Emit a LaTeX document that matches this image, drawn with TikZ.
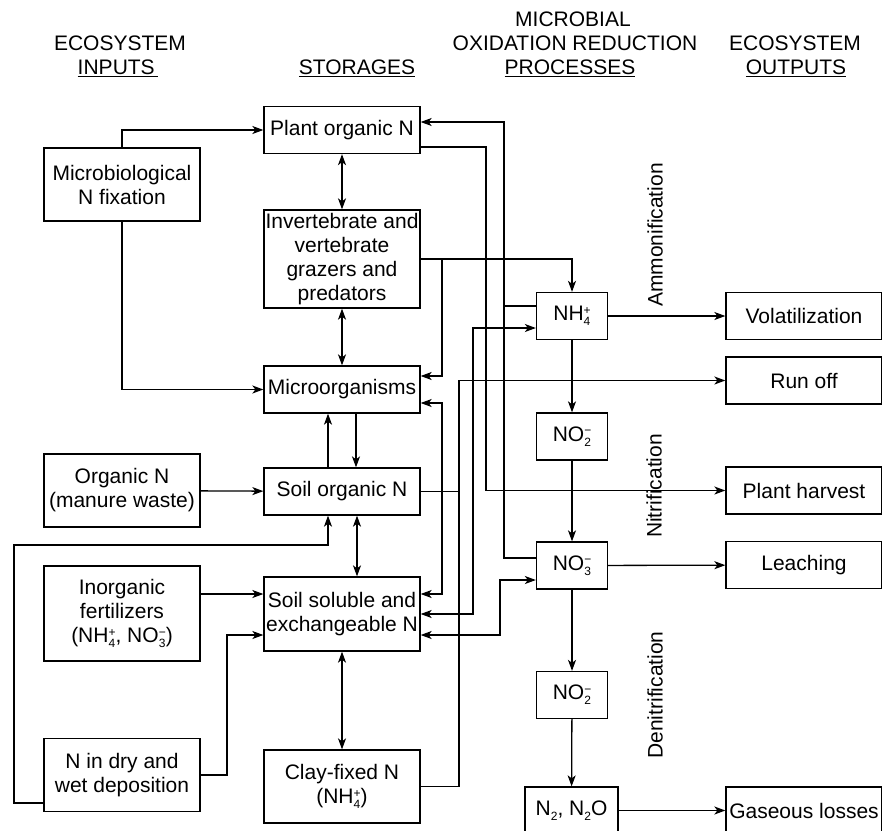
\documentclass[tikz,border=0pt]{standalone}
\usepackage{fontspec}
\setmainfont{Liberation Sans}
\usetikzlibrary{arrows.meta}

% ion with stacked charge and count
\newcommand{\ionsym}[3]{#1\raisebox{-0.45ex}{\fontsize{12}{12}\selectfont\shortstack[l]{#3\\#2}}}
\newcommand{\subs}[1]{\raisebox{-0.45ex}{\fontsize{12}{12}\selectfont #1}}

\tikzset{
  box/.style={draw, inner sep=1pt, align=center, minimum width=156pt, minimum height=47pt},
  ionbox/.style={box, minimum width=71pt},
  head/.style={anchor=base, inner sep=0pt},
  proc/.style={rotate=90, inner sep=0pt},
}

\begin{document}
\begin{tikzpicture}[x=1pt, y=-1pt, line width=1.3pt,
    >={Stealth[length=11pt,width=8pt,inset=3pt]},
    font=\fontsize{21}{24}\selectfont]

    \useasboundingbox (0,0) rectangle (882,830);

    % column heads
    \node[head] (hin1) at (120,50.5) {ECOSYSTEM};
    \node[head] (hin2) at (118,74.5) {\underline{INPUTS\,}};
    \node[head] (hst) at (357,74.5) {\underline{STORAGES}};
    \node[head] (hpr1) at (573,26.5) {MICROBIAL};
    \node[head] (hpr2) at (575,50.5) {OXIDATION REDUCTION};
    \node[head] (hpr3) at (570,74.5) {\underline{PROCESSES}};
    \node[head] (hout1) at (795,50.5) {ECOSYSTEM};
    \node[head] (hout2) at (796,74.5) {\underline{OUTPUTS}};

    % inputs
    \node[box, minimum height=73pt] (fix) at (122,184.5) {Microbiological\\N fixation};
    \node[box, minimum height=73pt] (orgn) at (122,490.5) {Organic N\\(manure waste)};
    \node[box, minimum height=95pt] (inorg) at (122,613.5) {Inorganic\\fertilizers\\(\ionsym{NH}{4}{+}, \ionsym{NO}{3}{−})};
    \node[box, minimum height=73pt] (dep) at (122,775) {N in dry and\\wet deposition};

    % storages
    \node[box] (plant) at (342,130) {Plant organic N};
    \node[box, minimum height=98pt] (inv) at (342,259) {Invertebrate and\\vertebrate\\grazers and\\predators};
    \node[box] (micro) at (342,389.5) {Microorganisms};
    \node[box] (soilorg) at (342,491.5) {Soil organic N};
    \node[box, minimum height=74pt] (soluble) at (342,614) {Soil soluble and\\exchangeable N};
    \node[box, minimum height=73pt] (clay) at (342,786.5) {Clay-fixed N\\(\ionsym{NH}{4}{+})};

    % processes
    \node[ionbox] (nh4) at (572,316) {\ionsym{NH}{4}{+}};
    \node[ionbox] (nitrite) at (572,436.5) {\ionsym{NO}{2}{−}};
    \node[ionbox] (nitrate) at (572,565.5) {\ionsym{NO}{3}{−}};
    \node[ionbox] (nitrite2) at (572,695) {\ionsym{NO}{2}{−}};
    \node[ionbox, minimum width=93pt] (gases) at (571.5,810.5) {N\subs{2}, N\subs{2}O};

    \node[proc] (ammon) at (655,235) {Ammonification};
    \node[proc] (nitrif) at (654,486) {Nitrification};
    \node[proc] (denit) at (655,695) {Denitrification};

    % outputs
    \node[box] (volat) at (804,316) {Volatilization};
    \node[box] (runoff) at (804,380.5) {Run off};
    \node[box] (harvest) at (804,490.5) {Plant harvest};
    \node[box] (leach) at (804,565) {Leaching};
    \node[box] (gasloss) at (804,810.5) {Gaseous losses};

    % inputs to storages
    \draw[->] (fix.north) |- (plant.west);
    \draw[->] (fix.south) |- (micro.west);
    \draw[->] (orgn) -- (soilorg);
    \draw[->] (inorg.east |- 0,594) -- (soluble.west |- 0,594);
    \draw[->] ([yshift=-28pt]dep.west) -| (14,545) -| ([xshift=-14pt]soilorg.south);
    \draw[->] (dep.east) -| (227,635) -- ([yshift=-21pt]soluble.west);

    % between storages
    \draw[<->] (plant) -- (inv);
    \draw[<->] (inv) -- (micro);
    \draw[->] ([xshift=14pt]micro.south) -- ([xshift=14pt]soilorg.north);
    \draw[->] ([xshift=-14pt]soilorg.north) -- ([xshift=-14pt]micro.south);
    \draw[<->] ([xshift=15pt]soilorg.south) -- ([xshift=15pt]soluble.north);
    \draw[<->] (soluble) -- (clay);
    \draw[->] (inv.east) -| (nh4.north);
    \draw[->] (442,259) |- ([yshift=13.5pt]micro.east);
    \draw[<->] ([yshift=-13.5pt]micro.east) -| (442,594) -- ([yshift=20pt]soluble.east);

    % storages and processes
    \draw[->] ([yshift=-17pt]plant.east) -- (486,147) |- (harvest.west);
    \draw[->] ([yshift=7.5pt]nitrate.west) -| (504,122) -- ([yshift=8pt]plant.east);
    \draw ([yshift=10pt]nh4.west) -- (504,306);
    \draw[<->] ([yshift=-12pt]nh4.west) -| (473,614) -- (soluble.east);
    \draw[<->] ([yshift=-14.5pt]nitrate.west) -| (500,635) -- ([yshift=-21pt]soluble.east);
    \draw[->] (clay.east) -- (459,786.5) |- (runoff.west);
    \draw (soilorg.east) -- (459,491.5);

    % process chain and outputs
    \draw[->] (nh4) -- (nitrite);
    \draw[->] (nitrite) -- (nitrate);
    \draw[->] (nitrate) -- (nitrite2);
    \draw[->] (nitrite2) -- (gases);
    \draw[->] (nh4) -- (volat);
    \draw[->] (nitrate) -- (leach);
    \draw[->] (gases) -- (gasloss);

\end{tikzpicture}
\end{document}
